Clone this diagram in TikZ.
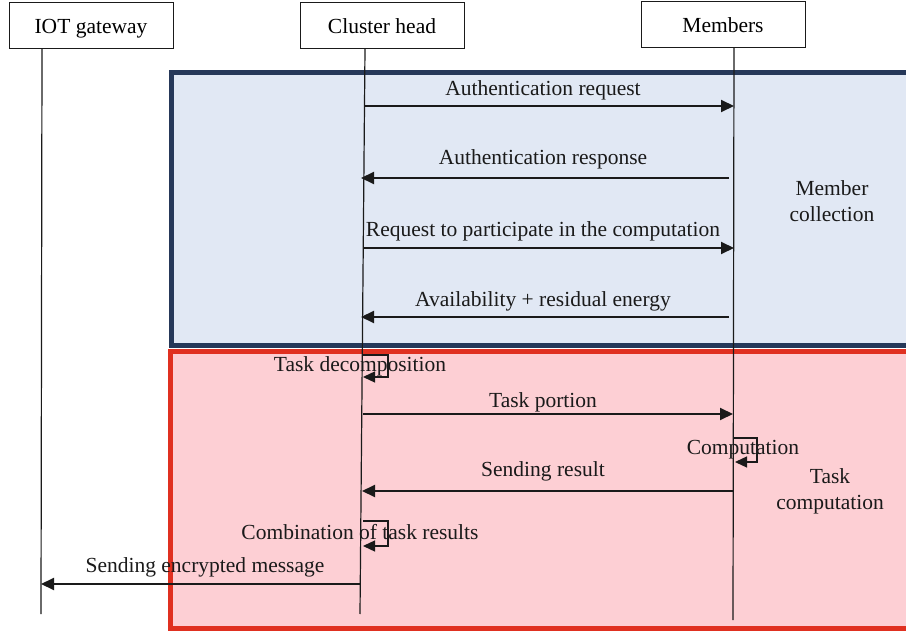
\documentclass[tikz,border=0pt]{standalone}
\usepackage{fontspec}
\setmainfont{Liberation Serif}
\usetikzlibrary{arrows.meta}
\definecolor{navy}{HTML}{263859}
\definecolor{bluefill}{HTML}{E1E8F4}
\definecolor{redline}{HTML}{E03020}
\definecolor{redfill}{HTML}{FDCFD4}
\definecolor{ink}{HTML}{1A1A1A}
\tikzset{
  actor/.style={draw=ink,line width=1pt,fill=white,minimum width=164pt,minimum height=46pt,inner sep=0pt,text height=15pt,text depth=0pt,font=\fontsize{21.5}{26}\selectfont},
  lifeline/.style={draw=ink,line width=1.2pt},
  msg/.style={draw=ink,line width=2pt,-{Triangle[length=13pt,width=12pt]}},
  loopmsg/.style={draw=ink,line width=1.3pt,-{Triangle[length=12pt,width=11pt]}},
  lbl/.style={font=\fontsize{21.5}{26}\selectfont,text=ink,inner sep=0pt},
}
\begin{document}
\begin{tikzpicture}[x=1pt,y=-1pt]
\useasboundingbox (0,0) rectangle (906,631);
% phase boxes
\draw[navy,line width=5pt,fill=bluefill] (171,73) rectangle (915,346);
\draw[redline,line width=5pt,fill=redfill] (170,352) rectangle (915,628);
% actors
\node[actor] (gw) at (91,26) {IOT gateway};
\node[actor] (ch) at (382,26) {Cluster head};
\node[actor] (mb) at (723,25) {Members};
% lifeline ends
\coordinate (gwt) at (42,49);
\coordinate (gwb) at (41,614);
\coordinate (cht) at (365,49);
\coordinate (chb) at (360,614);
\coordinate (mbt) at (734,48);
\coordinate (mbb) at (733,620);
\draw[lifeline] (gwt) -- (gwb);
\draw[lifeline] (cht) -- (chb);
\draw[lifeline] (mbt) -- (mbb);
% message anchor points
\coordinate (a1) at (365,106); \coordinate (b1) at (734,106);
\coordinate (a2) at (729,178); \coordinate (b2) at (361,178);
\coordinate (a3) at (364,248); \coordinate (b3) at (734,248);
\coordinate (a4) at (729,317); \coordinate (b4) at (361,317);
\coordinate (a6) at (363,414); \coordinate (b6) at (733,414);
\coordinate (a8) at (733,491); \coordinate (b8) at (362,491);
\coordinate (a10) at (360,584); \coordinate (b10) at (41,584);
\draw[msg] (a1) -- (b1);
\draw[msg] (a2) -- (b2);
\draw[msg] (a3) -- (b3);
\draw[msg] (a4) -- (b4);
\draw[msg] (a6) -- (b6);
\draw[msg] (a8) -- (b8);
\draw[msg] (a10) -- (b10);
% self loops
\coordinate (l1s) at (363,355); \coordinate (l1e) at (363,377);
\draw[loopmsg] (l1s) -- ++(25,0) |- (l1e);
\coordinate (l2s) at (734,438); \coordinate (l2e) at (735,462);
\draw[loopmsg] (l2s) -- ++(23,0) |- (l2e);
\coordinate (l3s) at (363,521); \coordinate (l3e) at (363,546);
\draw[loopmsg] (l3s) -- ++(25,0) |- (l3e);
% labels
\node[lbl] (t1) at (543,90) {Authentication request};
\node[lbl] (t2) at (543,159) {Authentication response};
\node[lbl] (t3) at (543,231) {Request to participate in the computation};
\node[lbl] (t4) at (543,301) {Availability + residual energy};
\node[lbl] (t5) at (360,366) {Task decomposition};
\node[lbl] (t6) at (543,402) {Task portion};
\node[lbl] (t7) at (743,450) {Computation};
\node[lbl] (t8) at (543,471) {Sending result};
\node[lbl] (t9) at (360,532) {Combination of task results};
\node[lbl] (t10) at (205,567) {Sending encrypted message};
\node[lbl,align=center] (p1) at (832,201) {Member\\collection};
\node[lbl,align=center] (p2) at (830,491) {Task\\computation};
\end{tikzpicture}
\end{document}
